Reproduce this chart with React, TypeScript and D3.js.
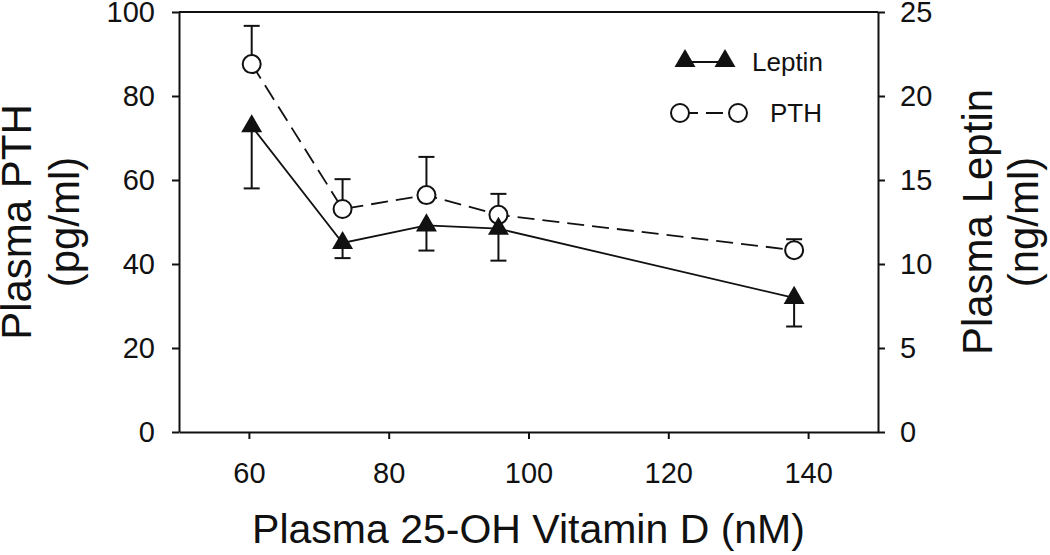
import React, { useEffect, useRef } from "react";
import * as d3 from "d3";

// values
const vitaminD = [60.4, 73.4, 85.4, 95.7, 138];
const pth = [87.6, 53.1, 56.4, 51.7, 43.3];
const pthErr = [9.1, 7.1, 9.1, 5.0, 2.6];
const leptin = [18.2, 11.25, 12.3, 12.1, 7.98];
const leptinErr = [3.7, 0.9, 1.5, 1.9, 1.7];

const xTicks = [60, 80, 100, 120, 140];
const pthTicks = [0, 20, 40, 60, 80, 100];
const leptinTicks = [0, 5, 10, 15, 20, 25];

const W = 1050;
const H = 555;
const plot = { left: 179, right: 878, top: 12, bottom: 432 };
const FONT = "'Liberation Sans', Arial, Helvetica, sans-serif";

export default function App() {
  const svgRef = useRef<SVGSVGElement>(null);

  useEffect(() => {
    document.body.style.margin = "0";
    const svg = d3.select(svgRef.current);
    svg.selectAll("*").remove();

    const x = d3.scaleLinear().domain([50, 150]).range([plot.left, plot.right]);
    const yL = d3.scaleLinear().domain([0, 100]).range([plot.bottom, plot.top]);
    const yR = d3.scaleLinear().domain([0, 25]).range([plot.bottom, plot.top]);

    const g = svg.append("g");

    // frame top line
    g.append("line")
      .attr("x1", plot.left).attr("x2", plot.right)
      .attr("y1", plot.top).attr("y2", plot.top)
      .attr("stroke", "#111").attr("stroke-width", 2);

    const styleAxis = (a: any) => {
      a.selectAll("path, line").attr("stroke", "#111").attr("stroke-width", 2);
      a.selectAll("text").attr("font-family", FONT).attr("font-size", 29).attr("fill", "#111");
    };

    g.append("g")
      .attr("transform", `translate(${plot.left},0)`)
      .call(d3.axisLeft(yL).tickValues(pthTicks).tickSize(7).tickSizeOuter(0).tickPadding(17))
      .call(styleAxis);

    g.append("g")
      .attr("transform", `translate(${plot.right},0)`)
      .call(d3.axisRight(yR).tickValues(leptinTicks).tickSize(7).tickSizeOuter(0).tickPadding(15))
      .call(styleAxis);

    g.append("g")
      .attr("transform", `translate(0,${plot.bottom})`)
      .call(d3.axisBottom(x).tickValues(xTicks).tickSize(7).tickSizeOuter(0).tickPadding(23))
      .call(styleAxis);

    // titles
    g.append("text")
      .attr("x", (plot.left + plot.right) / 2).attr("y", 543)
      .attr("text-anchor", "middle")
      .attr("font-family", FONT).attr("font-size", 41).attr("fill", "#111")
      .text("Plasma 25-OH Vitamin D (nM)");

    const midY = (plot.top + plot.bottom) / 2;
    const vTitle = (tx: number, label: string) =>
      g.append("text")
        .attr("transform", `translate(${tx},${midY}) rotate(-90)`)
        .attr("text-anchor", "middle")
        .attr("font-family", FONT).attr("font-size", 42).attr("fill", "#111")
        .text(label);
    vTitle(31, "Plasma PTH");
    vTitle(79, "(pg/ml)");
    vTitle(992, "Plasma Leptin");
    vTitle(1038, "(ng/ml)");

    const pts = vitaminD.map((v, i) => ({
      x: v, pth: pth[i], pthErr: pthErr[i], lep: leptin[i], lepErr: leptinErr[i],
    }));

    const cap = 8;
    // PTH error bars (up)
    pts.forEach(d => {
      const px = x(d.x), top = yL(d.pth + d.pthErr);
      g.append("line").attr("x1", px).attr("x2", px).attr("y1", yL(d.pth)).attr("y2", top)
        .attr("stroke", "#111").attr("stroke-width", 2);
      g.append("line").attr("x1", px - cap).attr("x2", px + cap).attr("y1", top).attr("y2", top)
        .attr("stroke", "#111").attr("stroke-width", 2);
    });
    // Leptin error bars (down)
    pts.forEach(d => {
      const px = x(d.x), bot = yR(d.lep - d.lepErr);
      g.append("line").attr("x1", px).attr("x2", px).attr("y1", yR(d.lep)).attr("y2", bot)
        .attr("stroke", "#111").attr("stroke-width", 2);
      g.append("line").attr("x1", px - cap).attr("x2", px + cap).attr("y1", bot).attr("y2", bot)
        .attr("stroke", "#111").attr("stroke-width", 2);
    });

    const pthLine = d3.line<any>().x(d => x(d.x)).y(d => yL(d.pth));
    const lepLine = d3.line<any>().x(d => x(d.x)).y(d => yR(d.lep));

    g.append("path").datum(pts).attr("d", pthLine)
      .attr("fill", "none").attr("stroke", "#111").attr("stroke-width", 1.8)
      .attr("stroke-dasharray", "17,8");
    g.append("path").datum(pts).attr("d", lepLine)
      .attr("fill", "none").attr("stroke", "#111").attr("stroke-width", 1.8);

    const tri = d3.symbol().type(d3.symbolTriangle).size(190);

    g.selectAll(".pth-pt").data(pts).enter().append("circle")
      .attr("cx", d => x(d.x)).attr("cy", d => yL(d.pth)).attr("r", 9)
      .attr("fill", "white").attr("stroke", "#111").attr("stroke-width", 2);

    g.selectAll(".lep-pt").data(pts).enter().append("path")
      .attr("d", tri)
      .attr("transform", d => `translate(${x(d.x)},${yR(d.lep)})`)
      .attr("fill", "#111");

    // legend
    const lg = g.append("g");
    lg.append("line").attr("x1", 685).attr("x2", 725).attr("y1", 62).attr("y2", 62)
      .attr("stroke", "#111").attr("stroke-width", 1.8);
    [685, 725].forEach(lx => {
      lg.append("path").attr("d", tri).attr("transform", `translate(${lx},61)`).attr("fill", "#111");
    });
    lg.append("text").attr("x", 752).attr("y", 71)
      .attr("font-family", FONT).attr("font-size", 26).attr("fill", "#111").text("Leptin");

    lg.append("line").attr("x1", 689).attr("x2", 729).attr("y1", 113).attr("y2", 113)
      .attr("stroke", "#111").attr("stroke-width", 1.8).attr("stroke-dasharray", "9,8,17,20");
    [680, 738].forEach(lx => {
      lg.append("circle").attr("cx", lx).attr("cy", 113).attr("r", 9)
        .attr("fill", "white").attr("stroke", "#111").attr("stroke-width", 2);
    });
    lg.append("text").attr("x", 770).attr("y", 122)
      .attr("font-family", FONT).attr("font-size", 26).attr("fill", "#111").text("PTH");
  }, []);

  return <svg ref={svgRef} width={W} height={H} style={{ display: "block", background: "white" }} />;
}
